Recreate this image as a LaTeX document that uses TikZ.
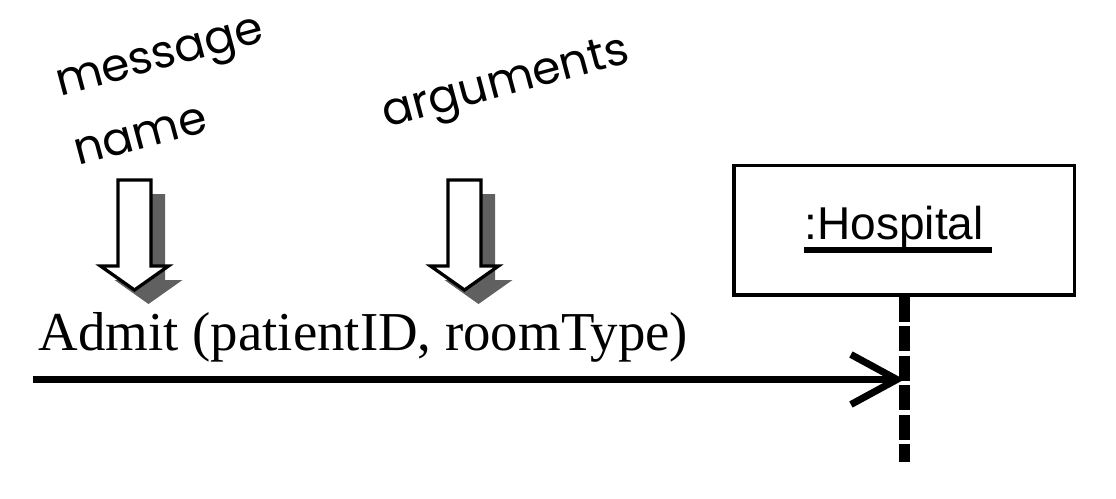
\documentclass[tikz,border=0pt]{standalone}
\usepackage{fontspec}
\setmainfont{Liberation Serif}
\newfontfamily\handfont{Poppins}
\newfontfamily\umlfont{Liberation Sans}
\usetikzlibrary{arrows.meta}
\definecolor{shadowgray}{RGB}{96,96,96}

\begin{document}
\begin{tikzpicture}[x=0.1mm,y=-0.1mm,
    hand/.style={font=\handfont\fontsize{13}{20.5}\selectfont, rotate=15, align=left, inner sep=0pt},
    objbox/.style={draw, line width=0.35mm, minimum width=34.05mm, minimum height=12.95mm, inner sep=0pt},
    lifeline/.style={line width=1.05mm, dash pattern=on 2.5mm off 0.45mm},
    message/.style={line width=0.7mm, -{Straight Barb[length=4.6mm,width=5mm]}},
    pics/pointer/.style={code={
      \fill[shadowgray, shift={(14,14)}] (-16.5,0) -- (16.5,0) -- (16.5,86) -- (34,86) -- (0,110) -- (-34,86) -- (-16.5,86) -- cycle;
      \draw[line width=0.33mm, fill=white] (-16.5,0) -- (16.5,0) -- (16.5,86) -- (34,86) -- (0,110) -- (-34,86) -- (-16.5,86) -- cycle;
    }}]
    \useasboundingbox (0,0) rectangle (1116,499);
    \node[hand, anchor=base west] (msgname) at (78,166) {message\\name};
    \node[hand, anchor=base west] (args) at (386,128) {arguments};
    \pic at (134.5,180) {pointer};
    \pic at (464.5,180) {pointer};
    \node[anchor=base west, inner sep=0pt, font=\fontsize{15.6}{18}\selectfont] (admit) at (38,350) {Admit (patientID, roomType)};
    \node[objbox] (hospbox) at (904.25,230.25) {};
    \node[anchor=base west, inner sep=0pt, font=\umlfont\fontsize{13.1}{15}\selectfont] (hosp) at (804,239) {:Hospital};
    \draw[line width=0.6mm] ([yshift=-0.1mm]hosp.south west) -- ([xshift=0.7mm,yshift=-0.1mm]hosp.south east);
    \coordinate (lifeend) at (904.25,462);
    \coordinate (msgstart) at (33,379.5);
    \draw[lifeline] (hospbox.south) -- (lifeend);
    \draw[message] (msgstart) -- (msgstart -| lifeend);
  \end{tikzpicture}
\end{document}
